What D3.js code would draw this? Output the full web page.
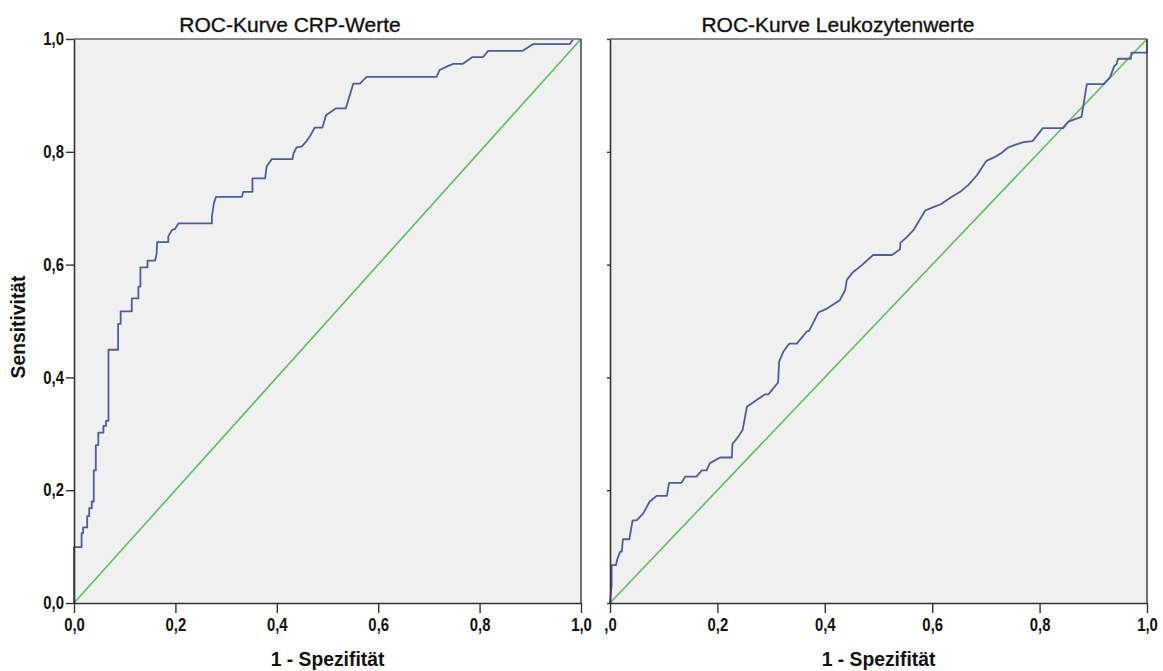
<!DOCTYPE html>
<html>
<head>
<meta charset="utf-8">
<script src="https://cdn.jsdelivr.net/npm/d3@7/dist/d3.min.js"></script>
<style>
  html, body { margin: 0; padding: 0; background: #ffffff; }
  svg { display: block; }
  .tick text, .lbl { font-family: "Liberation Sans", Arial, sans-serif; font-weight: bold; fill: #111; }
  .title { font-family: "Liberation Sans", Arial, sans-serif; fill: #111; stroke: #111; stroke-width: 0.35; }
</style>
</head>
<body>
<svg id="chart" width="1163" height="671"></svg>
<script>
// ROC curve for CRP values (1 - specificity, sensitivity)
const crpX = [0, 0, .015, .015, .018, .018, .026, .026, .030, .030, .035, .035, .039, .039, .043, .043, .048, .048,
  .058, .058, .063, .063, .068, .068, .087, .087, .092, .092, .114, .114, .127, .127, .131, .131, .145, .145,
  .160, .163, .164, .186, .186, .193, .199, .206, .272, .272, .276, .280, .331, .334, .352, .352, .377, .380,
  .390, .431, .433, .439, .449, .458, .465, .475, .490, .497, .517, .536, .551, .564, .577, .715, .721, .735,
  .748, .767, .786, .807, .817, .885, .906, .978, .985, 1];
const crpY = [0, .099, .099, .124, .124, .134, .134, .154, .154, .168, .168, .180, .180, .235, .235, .280, .280, .302,
  .302, .314, .314, .323, .323, .449, .449, .495, .495, .517, .517, .540, .540, .561, .561, .595, .595, .607,
  .607, .620, .640, .640, .650, .661, .663, .673, .673, .685, .709, .720, .720, .729, .729, .753, .753, .774,
  .787, .787, .797, .808, .809, .818, .827, .843, .843, .865, .877, .877, .921, .921, .933, .933, .945, .951,
  .956, .956, .968, .968, .979, .979, .991, .991, 1, 1];

// ROC curve for leukocyte values
const leukoX = [0, .003, .003, .011, .014, .019, .022, .024, .036, .042, .050, .062, .074, .087, .106, .110, .133,
  .140, .161, .171, .180, .186, .205, .227, .228, .239, .247, .255, .273, .289, .295, .313, .315, .323, .334,
  .348, .366, .371, .388, .404, .428, .438, .441, .453, .469, .490, .525, .540, .541, .553, .565, .587, .602,
  .616, .633, .652, .667, .683, .701, .717, .729, .742, .757, .770, .787, .806, .844, .853, .866, .878, .888,
  .919, .931, .939, .943, .946, .970, .971, 1, 1];
const leukoY = [0, .032, .067, .067, .079, .091, .091, .113, .113, .146, .147, .159, .180, .190, .190, .213, .213,
  .224, .224, .235, .235, .248, .258, .258, .282, .295, .307, .348, .360, .370, .370, .391, .428, .446, .460,
  .460, .481, .483, .515, .522, .537, .555, .573, .587, .599, .617, .617, .627, .639, .649, .661, .696, .702,
  .707, .718, .729, .741, .758, .784, .791, .798, .808, .813, .817, .819, .842, .842, .853, .858, .862, .920,
  .920, .932, .952, .955, .965, .965, .976, .976, 1];

// Reference diagonal
const diagX = [0, 1];
const diagY = [0, 1];

const tickValues = [0, 0.2, 0.4, 0.6, 0.8, 1.0];
const yTickLabels = ["0,0", "0,2", "0,4", "0,6", "0,8", "1,0"];
const leftXTickLabels = ["0,0", "0,2", "0,4", "0,6", "0,8", "1,0"];
const rightXTickLabels = [",0", "0,2", "0,4", "0,6", "0,8", "1,0"];

const titles = ["ROC-Kurve CRP-Werte", "ROC-Kurve Leukozytenwerte"];
const xTitle = "1 - Spezifität";
const yTitle = "Sensitivität";

const svg = d3.select("#chart");

const plotTop = 39, plotBottom = 603;
const tickSqueeze = 0.85;   // horizontal compression for condensed tick labels
const titleSqueeze = 0.92;  // and for the axis titles
const panels = [
  { x0: 74, x1: 581, titleX: 290, xs: crpX, ys: crpY, xLabels: leftXTickLabels, yLabels: true, title: titles[0] },
  { x0: 610, x1: 1147, titleX: 838, xs: leukoX, ys: leukoY, xLabels: rightXTickLabels, yLabels: false, title: titles[1] }
];

const y = d3.scaleLinear().domain([0, 1]).range([plotBottom, plotTop]);

panels.forEach(p => {
  const x = d3.scaleLinear().domain([0, 1]).range([p.x0, p.x1]);
  const g = svg.append("g");

  // plot background
  g.append("rect")
    .attr("x", x(0)).attr("y", y(1))
    .attr("width", x(1) - x(0)).attr("height", y(0) - y(1))
    .attr("fill", "#f0f0f0");

  const line = d3.line().x(d => x(d[0])).y(d => y(d[1]));

  // diagonal
  g.append("path")
    .datum(diagX.map((v, i) => [v, diagY[i]]))
    .attr("d", line)
    .attr("fill", "none").attr("stroke", "#5cbf5c").attr("stroke-width", 1.6);

  // ROC curve
  g.append("path")
    .datum(p.xs.map((v, i) => [v, p.ys[i]]))
    .attr("d", line)
    .attr("fill", "none").attr("stroke", "#4f5c9c").attr("stroke-width", 1.8)
    .attr("stroke-linejoin", "round");

  // top and right frame
  g.append("line").attr("x1", x(0)).attr("x2", x(1)).attr("y1", y(1)).attr("y2", y(1))
    .attr("stroke", "#8a8a8a").attr("stroke-width", 2);
  g.append("line").attr("x1", x(1)).attr("x2", x(1)).attr("y1", y(1)).attr("y2", y(0))
    .attr("stroke", "#444").attr("stroke-width", 1.5);

  // x axis
  const xAxis = d3.axisBottom(x).tickValues(tickValues)
    .tickFormat((d, i) => p.xLabels[i]).tickSize(10).tickSizeOuter(0).tickPadding(6);
  const gx = g.append("g").attr("transform", `translate(0,${y(0)})`).call(xAxis);
  gx.selectAll("text").attr("font-size", 17.5)
    .attr("transform", `scale(${tickSqueeze},1)`);

  // y axis
  const yAxis = d3.axisLeft(y).tickValues(tickValues)
    .tickFormat((d, i) => p.yLabels ? yTickLabels[i] : "")
    .tickSize(p.yLabels ? 8 : 3).tickSizeOuter(0).tickPadding(2);
  const gy = g.append("g").attr("transform", `translate(${x(0)},0)`).call(yAxis);
  gy.selectAll("text").attr("font-size", 17.5)
    .each(function () {
      const t = d3.select(this);
      t.attr("x", +t.attr("x") / tickSqueeze).attr("transform", `scale(${tickSqueeze},1)`);
    });

  [gx, gy].forEach(a => {
    a.select(".domain").attr("stroke", "#333").attr("stroke-width", 1.6);
    a.selectAll(".tick line").attr("stroke", "#333").attr("stroke-width", 1.4);
  });

  // titles
  g.append("text").attr("class", "title")
    .attr("x", p.titleX).attr("y", 32)
    .attr("text-anchor", "middle").attr("font-size", 21)
    .text(p.title);

  g.append("text").attr("class", "lbl")
    .attr("transform", `translate(${(x(0) + x(1)) / 2},666) scale(${titleSqueeze},1)`)
    .attr("text-anchor", "middle").attr("font-size", 21)
    .text(xTitle);
});

svg.append("text").attr("class", "lbl")
  .attr("transform", `translate(25,${(plotTop + plotBottom) / 2 + 6}) rotate(-90) scale(${titleSqueeze},1)`)
  .attr("text-anchor", "middle").attr("font-size", 21)
  .text(yTitle);
</script>
</body>
</html>
